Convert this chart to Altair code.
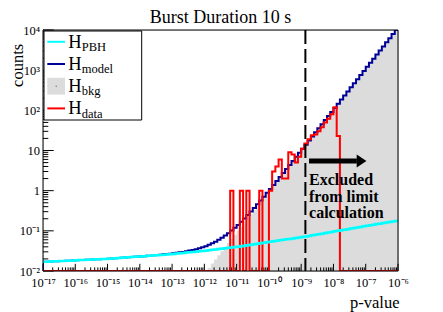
import altair as alt
import numpy as np
import pandas as pd

# ---------------- data ----------------
n_bins = 110            # log10-spaced bins, 0.1 decade each
log_lo, log_hi = -17, -6

pbh_counts = [
    0.0170, 0.0171, 0.0173, 0.0174, 0.0176, 0.0177, 0.0178, 0.0180, 0.0181, 0.0183,
    0.0185, 0.0187, 0.0188, 0.0190, 0.0191, 0.0193, 0.0195, 0.0196, 0.0198, 0.0199,
    0.0201, 0.0204, 0.0207, 0.0210, 0.0213, 0.0216, 0.0219, 0.0222, 0.0225, 0.0228,
    0.0231, 0.0234, 0.0238, 0.0241, 0.0245, 0.0248, 0.0252, 0.0255, 0.0259, 0.0262,
    0.0266, 0.0271, 0.0276, 0.0281, 0.0287, 0.0292, 0.0298, 0.0303, 0.0309, 0.0314,
    0.0320, 0.0328, 0.0336, 0.0344, 0.0352, 0.0360, 0.0369, 0.0378, 0.0387, 0.0396,
    0.0404, 0.0415, 0.0427, 0.0439, 0.0452, 0.0465, 0.0478, 0.0492, 0.0506, 0.0520,
    0.0533, 0.0548, 0.0563, 0.0579, 0.0596, 0.0613, 0.0630, 0.0648, 0.0667, 0.0686,
    0.0703, 0.0726, 0.0749, 0.0773, 0.0798, 0.0824, 0.0851, 0.0879, 0.0907, 0.0936,
    0.0970, 0.1002, 0.1034, 0.1067, 0.1102, 0.1138, 0.1175, 0.1213, 0.1252, 0.1293,
    0.134, 0.138, 0.142, 0.147, 0.151, 0.156, 0.161, 0.166, 0.171, 0.176,
]

model_counts = [
    0.0170, 0.0171, 0.0173, 0.0174, 0.0176, 0.0177, 0.0178, 0.0180, 0.0181, 0.0183,
    0.0185, 0.0187, 0.0188, 0.0190, 0.0191, 0.0193, 0.0195, 0.0196, 0.0198, 0.0199,
    0.0201, 0.0204, 0.0207, 0.0210, 0.0213, 0.0216, 0.0219, 0.0222, 0.0225, 0.0228,
    0.0231, 0.0234, 0.0238, 0.0241, 0.0245, 0.0251, 0.0255, 0.0260, 0.0265, 0.0269,
    0.0275, 0.0283, 0.0291, 0.0299, 0.0310, 0.0322, 0.0335, 0.0350, 0.0369, 0.0390,
    0.0416, 0.0449, 0.0489, 0.0538, 0.0597, 0.0670, 0.0762, 0.0875, 0.1015, 0.119,
    0.140, 0.169, 0.204, 0.247, 0.302, 0.372, 0.459, 0.569, 0.709, 0.884,
    1.10, 1.385, 1.74, 2.19, 2.75, 3.46, 4.37, 5.51, 6.96, 8.78,
    11.07, 13.97, 17.68, 22.38, 28.28, 35.68, 45.18, 57.09, 72.19, 91.29,
    115.1, 146.1, 185.1, 233.1, 295.1, 373.1, 472.1, 597.1, 755.1, 955.1,
    1208, 1528, 1932, 2443, 3090, 3908, 4943, 6252, 7907, 9950,
]

bkg_first_bin = 45      # lower bins lie below the 1e-2 frame floor
bkg_counts = [
    0.0030, 0.0037, 0.0047, 0.0060, 0.0076,
    0.0096, 0.0121, 0.0153, 0.0194, 0.0245, 0.0310, 0.0393, 0.0497, 0.0628, 0.0794,
    0.100, 0.127, 0.161, 0.203, 0.257, 0.325, 0.411, 0.520, 0.658, 0.832,
    1.05, 1.33, 1.68, 2.13, 2.69, 3.40, 4.31, 5.44, 6.89, 8.71,
    11.0, 13.9, 17.6, 22.3, 28.2, 35.6, 45.1, 57.0, 72.1, 91.2,
    115, 146, 185, 233, 295, 373, 472, 597, 755, 955,
    1208, 1528, 1932, 2443, 3090, 3908, 4943, 6252, 7907, 9950,
]

data_counts = [
    0, 0, 0, 0, 0, 0, 0, 0, 0, 0,
    0, 0, 0, 0, 0, 0, 0, 0, 0, 0,
    0, 0, 0, 0, 0, 0, 0, 0, 0, 0,
    0, 0, 0, 0, 0, 0, 0, 0, 0, 0,
    0, 0, 0, 0, 0, 0, 0, 0, 0, 0,
    0, 0, 0, 0, 0, 0, 0, 0, 1, 0,
    0, 1, 0, 1, 0, 0, 0, 1, 0, 0,
    1, 3, 4, 6, 2, 2, 9, 8, 5, 7,
    11, 15, 19, 24, 25, 30, 38, 50, 62, 80,
    120, 23, 0, 0, 0, 0, 0, 0, 0, 0,
    0, 0, 0, 0, 0, 0, 0, 0, 0, 0,
]

cut_pvalue = 1.35e-9                      # dashed limit line
arrow = {"x0": 1.75e-9, "x1": 5.3e-8, "tip": 1.05e-7, "y": 5.45}
note = {"x": 1.75e-9, "y": 1.38, "text": "Excluded\nfrom limit\ncalculation"}

title_text = "Burst Duration 10 s"
x_title, y_title = "p-value", "counts"
x_tick_labels = ["10⁻¹⁷", "10⁻¹⁶", "10⁻¹⁵", "10⁻¹⁴", "10⁻¹³", "10⁻¹²",
                 "10⁻¹¹", "10⁻¹⁰", "10⁻⁹", "10⁻⁸", "10⁻⁷", "10⁻⁶"]
y_tick_labels = ["10⁻²", "10⁻¹", "1", "10", "10²", "10³", "10⁴"]

legend_rows = [("PBH", "line"), ("model", "line"), ("bkg", "box"), ("data", "line")]

# ---------------- styling ----------------
FONT = "Liberation Serif"
CYAN, BLUE, RED, GRAY = "#00ffff", "#000099", "#ff0000", "#dcdcdc"
W, H = 355, 241
Y_MIN, Y_MAX = 0.01, 1e4

edges = 10.0 ** np.linspace(log_lo, log_hi, n_bins + 1)


def step_table(values, first=0, start_floor=False):
    xs = list(edges[first:first + len(values)]) + [edges[first + len(values)]]
    ys = list(values) + [values[-1]]
    if start_floor:
        xs = [edges[first]] + xs
        ys = [Y_MIN] + ys
    return pd.DataFrame({"x": xs, "y": ys, "i": range(len(xs))})


xscale = alt.Scale(type="log", domain=[10.0 ** log_lo, 10.0 ** log_hi], nice=False)
yscale = alt.Scale(type="log", domain=[Y_MIN, Y_MAX], nice=False)

x_major = [10.0 ** e for e in range(log_lo, log_hi + 1)]
x_minor = [m * 10.0 ** e for e in range(log_lo, log_hi) for m in range(2, 10)]
y_major = [10.0 ** e for e in range(-2, 5)]
y_minor = [m * 10.0 ** e for e in range(-2, 4) for m in range(2, 10)]


def label_expr(values, labels):
    expr = "'%s'" % labels[-1]
    for v, lab in reversed(list(zip(values[:-1], labels[:-1]))):
        expr = "datum.value < %g ? '%s' : (%s)" % (v * 3, lab, expr)
    return expr


xaxis = alt.Axis(values=x_major, labelExpr=label_expr(x_major, x_tick_labels), ticks=False,
                 domain=False, grid=False, labelFont=FONT, labelFontSize=12.5, labelColor="black",
                 labelBaseline="alphabetic", labelPadding=15, labelOverlap=False, labelFlush=False,
                 title=x_title, titleFont=FONT, titleFontSize=16.5, titleFontWeight="normal",
                 titleColor="black", titleAlign="right", titleBaseline="alphabetic",
                 titleX=W + 1, titleY=36)
yaxis = alt.Axis(values=y_major, labelExpr=label_expr(y_major, y_tick_labels), ticks=False,
                 domain=False, grid=False, labelFont=FONT, labelFontSize=12.5, labelColor="black",
                 labelAlign="right", labelBaseline="middle", labelPadding=3.5, labelOverlap=False,
                 labelFlush=False, title=y_title, titleFont=FONT, titleFontSize=16.5,
                 titleFontWeight="normal", titleColor="black", titleAngle=270, titleAlign="right",
                 titleBaseline="alphabetic", titleX=-20.5, titleY=13.3)


def X(field):
    return alt.X(field, scale=xscale, axis=xaxis)


def Y(field):
    return alt.Y(field, scale=yscale, axis=yaxis)


layers = []

# background histogram (filled)
layers.append(
    alt.Chart(step_table(bkg_counts, bkg_first_bin)).mark_area(
        interpolate="step-after", color=GRAY, clip=True, opacity=1
    ).encode(x=X("x:Q"), y=Y("y:Q"), y2=alt.datum(Y_MIN))
)

# inward ticks (ROOT style)
one = pd.DataFrame({"d": [0]})
for vals, length in ((x_major, 7.2), (x_minor, 3.6)):
    layers.append(
        alt.Chart(pd.DataFrame({"x": vals})).mark_rule(color="black", strokeWidth=1).encode(
            x=X("x:Q"), y=alt.value(H), y2=alt.value(H - length)
        )
    )
for vals, length in ((y_major, 10.7), (y_minor, 5.3)):
    layers.append(
        alt.Chart(pd.DataFrame({"y": vals})).mark_rule(color="black", strokeWidth=1).encode(
            y=Y("y:Q"), x=alt.value(0), x2=alt.value(length)
        )
    )


def hist_line(values, color, width, floor_zero=False, start_floor=False):
    vals = [v if (v > 0 or not floor_zero) else Y_MIN for v in values]
    return alt.Chart(step_table(vals, 0, start_floor)).mark_line(
        interpolate="step-after", color=color, strokeWidth=width, clip=True
    ).encode(x=X("x:Q"), y=Y("y:Q"), order="i:Q")


layers.append(hist_line(model_counts, BLUE, 2, start_floor=True))
layers.append(hist_line(data_counts, RED, 2, floor_zero=True, start_floor=True))
layers.append(hist_line(pbh_counts, CYAN, 2.5))

# frame
layers.append(
    alt.Chart(one).mark_rect(fillOpacity=0, stroke="black", strokeWidth=1).encode(
        x=alt.value(0), x2=alt.value(W), y=alt.value(0), y2=alt.value(H)
    )
)

# dashed cut line
layers.append(
    alt.Chart(pd.DataFrame({"x": [cut_pvalue], "y": [Y_MAX], "y2": [Y_MIN]})).mark_rule(
        color="black", strokeWidth=2, strokeDash=[14, 5]
    ).encode(x=X("x:Q"), y=Y("y:Q"), y2="y2:Q")
)

# arrow + note
layers.append(
    alt.Chart(pd.DataFrame([arrow])).mark_rule(color="black", strokeWidth=5, strokeCap="butt").encode(
        x=X("x0:Q"), x2="x1:Q", y=Y("y:Q")
    )
)
layers.append(
    alt.Chart(pd.DataFrame([arrow])).mark_point(
        shape="M-1.5,-1L0,0L-1.5,1Z", filled=True, size=169, color="black", opacity=1, strokeWidth=0
    ).encode(x=X("tip:Q"), y=Y("y:Q"))
)
layers.append(
    alt.Chart(pd.DataFrame([note])).mark_text(
        align="left", baseline="alphabetic", font=FONT, fontWeight="bold", fontSize=16,
        lineBreak="\n", lineHeight=16.6, color="black"
    ).encode(x=X("x:Q"), y=Y("y:Q"), text="text:N")
)

# legend (drawn by hand, ROOT style)
layers.append(
    alt.Chart(one).mark_rect(fill="white", stroke="black", strokeWidth=1).encode(
        x=alt.value(1), x2=alt.value(98.7), y=alt.value(1), y2=alt.value(90)
    )
)
row_y = [11.8, 34.0, 56.2, 78.4]
row_col = [CYAN, BLUE, GRAY, RED]
for (sub, kind), yc, col in zip(legend_rows, row_y, row_col):
    if kind == "line":
        layers.append(
            alt.Chart(one).mark_rule(color=col, strokeWidth=2).encode(
                x=alt.value(4.3), x2=alt.value(22), y=alt.value(yc)
            )
        )
    else:
        layers.append(
            alt.Chart(one).mark_rect(color=col).encode(
                x=alt.value(4.3), x2=alt.value(22), y=alt.value(yc - 8.4), y2=alt.value(yc + 8.4)
            )
        )
        layers.append(
            alt.Chart(one).mark_point(filled=True, size=2, color="#777777", opacity=1).encode(
                x=alt.value(13.2), y=alt.value(yc)
            )
        )
    layers.append(
        alt.Chart(one).mark_text(text="H", font=FONT, fontSize=18.5, align="left",
                                 baseline="alphabetic", color="black").encode(
            x=alt.value(25.3), y=alt.value(yc + 6)
        )
    )
    layers.append(
        alt.Chart(one).mark_text(text=sub, font=FONT, fontSize=12.5, align="left",
                                 baseline="alphabetic", color="black").encode(
            x=alt.value(38.8), y=alt.value(yc + 9.2)
        )
    )

# chart title (as a text mark above the frame)
layers.append(
    alt.Chart(one).mark_text(text=title_text, font=FONT, fontSize=18, align="center",
                             baseline="alphabetic", color="black").encode(
        x=alt.value(W / 2), y=alt.value(-7)
    )
)

chart = alt.layer(*layers).properties(
    width=W,
    height=H,
    padding={"left": 35, "top": 22, "right": 28, "bottom": 41},
    autosize=alt.AutoSizeParams(type="none"),
).configure_view(strokeWidth=0).configure(background="white", font=FONT)

chart.save("out.html", embed_options={"renderer": "svg", "actions": False})
